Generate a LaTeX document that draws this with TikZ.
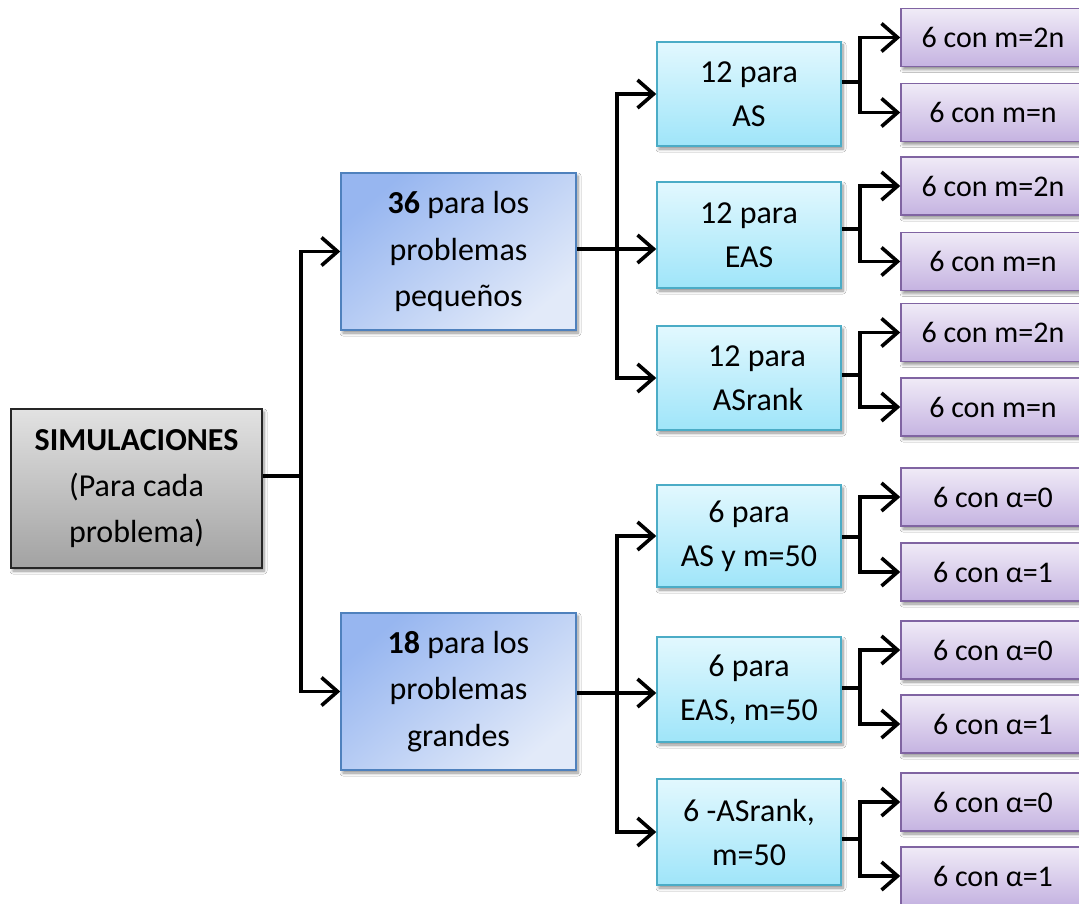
\documentclass[tikz,border=0pt]{standalone}
\usepackage{fontspec}
\setmainfont{Carlito}
\usetikzlibrary{arrows.meta,shadows.blur}

\definecolor{rootTop}{HTML}{E2E2E2}
\definecolor{rootBot}{HTML}{A2A2A2}
\definecolor{rootLine}{HTML}{262626}
\definecolor{midA}{HTML}{97B6F0}
\definecolor{midB}{HTML}{E2EAF9}
\definecolor{midLine}{HTML}{4F81BD}
\definecolor{subTop}{HTML}{E2F8FE}
\definecolor{subBot}{HTML}{9FE5F9}
\definecolor{subLine}{HTML}{4BACC6}
\definecolor{leafTop}{HTML}{F0EBF7}
\definecolor{leafBot}{HTML}{C5B3E1}
\definecolor{leafLine}{HTML}{8064A2}

\tikzset{
  box/.style={rectangle, inner sep=0pt, align=center, line width=1.5pt,
    blur shadow={shadow xshift=2pt, shadow yshift=-3pt, shadow blur radius=3pt,
      shadow blur steps=6, shadow opacity=45}},
  rootbox/.style={box, draw=rootLine, top color=rootTop, bottom color=rootBot,
    minimum width=251pt, minimum height=159pt, font=\fontsize{32}{46}\selectfont},
  midbox/.style={box, draw=midLine, top color=midA, bottom color=midB,
    shading angle=40, minimum width=235pt, minimum height=157pt,
    font=\fontsize{32}{46.5}\selectfont},
  subbox/.style={box, draw=subLine, top color=subTop, bottom color=subBot,
    minimum width=184pt, font=\fontsize{32}{44}\selectfont},
  leafbox/.style={box, draw=leafLine, top color=leafTop, bottom color=leafBot,
    minimum width=184pt, minimum height=58pt, font=\fontsize{30}{36}\selectfont},
  link/.style={line width=3.6pt, black},
  arr/.style={link, -{Straight Barb[length=16pt, width=28pt, line width=3.6pt]}},
}

\begin{document}
\begin{tikzpicture}[x=1pt, y=-1pt]
\path[use as bounding box, fill=white] (0,0) rectangle (1079,904);

% root
\node[rootbox] (root) at (136.5,488.5) {\textbf{SIMULACIONES}\\(Para cada\\problema)};

% second level
\node[midbox] (small) at (458.5,251.5) {\textbf{36} para los\\problemas\\pequeños};
\node[midbox] (large) at (458.5,691.5) {\textbf{18} para los\\problemas\\grandes};

% third level
\node[subbox, minimum height=104pt] (as)   at (749,94)    {12 para\\AS};
\node[subbox, minimum height=106pt] (eas)  at (749,235)   {12 para\\EAS};
\node[subbox, minimum height=104pt] (asr)  at (749,378)   {\hspace*{16pt}12 para\\\hspace*{18pt}ASrank};
\node[subbox, minimum height=102pt] (asL)  at (749,536)   {6 para\\AS y m=50};
\node[subbox, minimum height=105pt] (easL) at (749,689.5) {6 para\\EAS, m=50};
\node[subbox, minimum height=106pt] (asrL) at (749,832)   {6 -ASrank,\\m=50};

% leaves
\node[leafbox] (l1)  at (993,37.5)  {6 con m=2n};
\node[leafbox] (l2)  at (993,112.5) {6 con m=n};
\node[leafbox] (l3)  at (993,186)   {6 con m=2n};
\node[leafbox] (l4)  at (993,261.5) {6 con m=n};
\node[leafbox] (l5)  at (993,332.5) {6 con m=2n};
\node[leafbox] (l6)  at (993,407)   {6 con m=n};
\node[leafbox] (l7)  at (993,497)   {6 con α=0};
\node[leafbox] (l8)  at (993,572)   {6 con α=1};
\node[leafbox] (l9)  at (993,650)   {6 con α=0};
\node[leafbox] (l10) at (993,724)   {6 con α=1};
\node[leafbox] (l11) at (993,802)   {6 con α=0};
\node[leafbox] (l12) at (993,876)   {6 con α=1};

% junction points
\coordinate (jr) at (301,476);
\coordinate (js) at (617,249);
\coordinate (jl) at (617,693);
\coordinate (j1) at (860,82);
\coordinate (j2) at (860,229);
\coordinate (j3) at (860,375);
\coordinate (j4) at (860,537);
\coordinate (j5) at (860,688);
\coordinate (j6) at (860,839);

% root -> second level
\draw[link] (root.east |- jr) -- (jr);
\draw[arr] (jr) |- (small.west);
\draw[arr] (jr) |- (large.west);

% small problems -> algorithms
\draw[arr] (small.east |- js) -- (js -| eas.west);
\draw[arr] (js) |- (as.west);
\draw[arr] (js) |- (asr.west);

% large problems -> algorithms
\draw[arr] (large.east |- jl) -- (jl -| easL.west);
\draw[arr] (jl) |- (asL.west);
\draw[arr] (jl) |- (asrL.west);

% algorithms -> leaves
\draw[link] (as.east |- j1) -- (j1);
\draw[arr] (j1) |- (l1.west);
\draw[arr] (j1) |- (l2.west);
\draw[link] (eas.east |- j2) -- (j2);
\draw[arr] (j2) |- (l3.west);
\draw[arr] (j2) |- (l4.west);
\draw[link] (asr.east |- j3) -- (j3);
\draw[arr] (j3) |- (l5.west);
\draw[arr] (j3) |- (l6.west);
\draw[link] (asL.east |- j4) -- (j4);
\draw[arr] (j4) |- (l7.west);
\draw[arr] (j4) |- (l8.west);
\draw[link] (easL.east |- j5) -- (j5);
\draw[arr] (j5) |- (l9.west);
\draw[arr] (j5) |- (l10.west);
\draw[link] (asrL.east |- j6) -- (j6);
\draw[arr] (j6) |- (l11.west);
\draw[arr] (j6) |- (l12.west);
\end{tikzpicture}
\end{document}
